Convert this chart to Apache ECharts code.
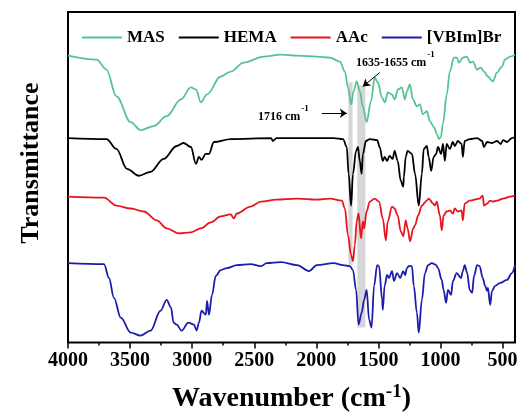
<!DOCTYPE html>
<html>
<head>
<meta charset="utf-8">
<script src="https://cdn.jsdelivr.net/npm/echarts@6/dist/echarts.min.js"></script>
<style>
  html, body { margin: 0; padding: 0; background: #fff; }
  #ftir { width: 521px; height: 418px; }
</style>
</head>
<body>
<div id="ftir"></div>
<script>
// FTIR spectra, stacked (arbitrary transmittance units, offset per sample)
var names = ['MAS', 'HEMA', 'AAc', '[VBIm]Br'];
var colors = ['#55c490', '#000000', '#e8141e', '#1c1caa'];

var majorTicks = [4000, 3500, 3000, 2500, 2000, 1500, 1000, 500];
var minorTicks = [3750, 3250, 2750, 2250, 1750, 1250, 750];

// [wavenumber, transmittance]
var MAS = [[4000,289],[3770,285],[3690,275],[3610,248],[3495,222],[3415,214],[3310,218],[3205,228],[3090,245],[3010,257],[2970,255],[2930,242],[2880,250],[2770,268],[2690,273],[2585,282],[2425,288],[2285,290],[2155,289],[1995,288],[1890,287],[1810,283],[1770,273],[1745,257],[1720,240],[1700,253],[1675,263],[1650,253],[1625,238],[1595,222],[1560,243],[1530,267],[1505,262],[1472,247],[1448,242],[1424,252],[1392,250],[1368,245],[1343,255],[1311,257],[1287,245],[1271,253],[1247,260],[1222,245],[1190,238],[1166,240],[1142,230],[1110,233],[1086,223],[1053,217],[1029,210],[1013,205],[997,207],[981,220],[949,250],[925,273],[892,287],[868,287],[852,282],[820,287],[787,288],[763,282],[739,283],[707,275],[675,277],[650,273],[618,268],[578,263],[546,272],[505,278],[481,285],[441,288],[400,290]];

var HEMA = [[4000,206],[3690,205],[3610,195],[3525,175],[3430,168],[3335,172],[3230,185],[3125,198],[3070,201],[3010,197],[2970,180],[2945,187],[2925,184],[2890,190],[2865,190],[2825,202],[2690,205],[2365,206],[2350,203],[2320,206],[1860,206],[1785,205],[1755,197],[1740,170],[1720,138],[1705,170],[1680,193],[1665,197],[1650,183],[1635,170],[1625,190],[1600,203],[1570,205],[1510,204],[1490,197],[1465,183],[1450,187],[1430,183],[1410,188],[1385,185],[1370,193],[1345,183],[1320,163],[1300,157],[1295,167],[1280,187],[1265,193],[1230,190],[1205,170],[1175,138],[1150,170],[1135,195],[1110,198],[1095,187],[1075,173],[1055,187],[1035,190],[1020,197],[995,190],[980,200],[965,183],[950,200],[925,195],[900,202],[885,198],[860,203],[830,200],[820,187],[805,203],[765,205],[705,206],[665,203],[650,197],[625,202],[585,201],[545,203],[515,200],[495,204],[465,202],[425,206],[400,207]];

var AAC = [[4000,147],[3710,146],[3610,138],[3495,135],[3390,132],[3285,123],[3205,115],[3110,110],[3010,111],[2930,115],[2850,121],[2770,127],[2690,129],[2665,125],[2640,130],[2530,137],[2445,142],[2320,144],[2155,145],[1995,144],[1890,145],[1795,143],[1770,135],[1745,108],[1720,88],[1705,82],[1690,98],[1675,122],[1660,130],[1640,105],[1625,122],[1615,115],[1595,132],[1570,142],[1530,145],[1495,142],[1465,125],[1440,103],[1425,122],[1390,137],[1370,135],[1345,128],[1320,112],[1300,107],[1280,123],[1265,115],[1245,102],[1220,115],[1205,118],[1180,128],[1150,138],[1110,143],[1095,145],[1060,140],[1045,138],[1030,142],[1005,128],[990,113],[975,128],[950,132],[925,133],[900,130],[885,135],[860,132],[830,133],[820,123],[805,140],[765,143],[685,145],[660,148],[650,138],[625,140],[600,143],[580,142],[545,143],[495,145],[440,147],[400,148]];

var VBIM = [[4000,80],[3710,79],[3670,65],[3630,45],[3575,25],[3495,10],[3415,7],[3335,12],[3255,32],[3205,43],[3170,35],[3150,20],[3125,18],[3085,12],[3030,20],[2985,18],[2965,12],[2945,20],[2925,32],[2890,28],[2880,42],[2865,28],[2840,48],[2810,67],[2770,73],[2720,75],[2640,78],[2530,79],[2445,77],[2400,80],[2285,81],[2155,78],[2060,72],[1995,78],[1860,80],[1785,78],[1730,77],[1705,73],[1680,53],[1660,18],[1635,30],[1615,43],[1595,53],[1575,23],[1555,15],[1535,57],[1510,78],[1495,77],[1470,43],[1465,33],[1450,57],[1430,68],[1415,65],[1390,72],[1375,62],[1350,70],[1325,65],[1300,72],[1285,68],[1270,75],[1255,77],[1230,77],[1215,57],[1190,30],[1175,10],[1150,43],[1125,70],[1100,78],[1070,80],[1035,78],[1020,75],[990,63],[975,53],[955,40],[940,53],[915,48],[900,62],[870,70],[835,65],[820,72],[805,78],[785,70],[765,53],[745,50],[730,67],[705,78],[685,77],[660,65],[640,57],[625,52],[618,55],[600,38],[585,52],[560,57],[520,60],[465,63],[425,70],[400,78]];

var spectra = [MAS, HEMA, AAC, VBIM];

// highlighted bands: [from, to] wavenumber, [low, high] transmittance
var bandC_O = [[1708, 1742], [78, 262]];
var bandC_C = [[1605, 1670], [15, 259]];

var serif = "'Times New Roman', 'Liberation Serif', serif";
var chart = echarts.init(document.getElementById('ftir'));

var series = spectra.map(function (d, i) {
  return {
    name: names[i],
    type: 'line',
    data: d,
    symbol: 'none',
    smooth: 0.35,
    smoothMonotone: 'x',
    z: 3,
    lineStyle: { color: colors[i], width: 1.8 },
    itemStyle: { color: colors[i] }
  };
});

series.unshift({
  name: 'bands',
  type: 'line',
  data: [],
  z: 1,
  markArea: {
    silent: true,
    itemStyle: { color: '#d6d6d6' },
    data: [
      [{ xAxis: bandC_O[0][0], yAxis: bandC_O[1][0] }, { xAxis: bandC_O[0][1], yAxis: bandC_O[1][1] }],
      [{ xAxis: bandC_C[0][0], yAxis: bandC_C[1][0] }, { xAxis: bandC_C[0][1], yAxis: bandC_C[1][1] }]
    ]
  },
  markLine: {
    silent: true,
    symbol: ['none', 'arrow'],
    symbolSize: 7,
    label: { show: false },
    lineStyle: { color: '#000', width: 1, type: 'solid' },
    data: [
      [{ coord: [1956, 231] }, { coord: [1754, 231] }],
      [{ coord: [1489, 272] }, { coord: [1625, 258] }]
    ]
  }
});

var supStyle = { fontFamily: serif, fontWeight: 'bold', fontSize: 9, fill: '#000', padding: [0, 0, 16, 1] };

var option = {
  animation: false,
  backgroundColor: '#fff',
  grid: {
    left: 68, right: 6, top: 12, bottom: 73,
    show: true, borderColor: '#000', borderWidth: 2
  },
  legend: {
    data: names,
    left: 77, top: 24,
    icon: 'rect',
    itemWidth: 40, itemHeight: 2, itemGap: 14,
    textStyle: { fontFamily: serif, fontWeight: 'bold', fontSize: 17, color: '#000' }
  },
  xAxis: [{
    type: 'value',
    min: 400, max: 4000,
    inverse: true,
    position: 'bottom',
    splitLine: { show: false },
    axisLine: { show: false },
    axisTick: { show: true, inside: false, length: 6, customValues: majorTicks,
      lineStyle: { color: '#000', width: 1.5 } },
    axisLabel: { customValues: majorTicks, margin: 8, color: '#000',
      formatter: function (v) { return String(v); },
      fontFamily: serif, fontWeight: 'bold', fontSize: 20 },
    name: 'Wavenumber (cm{sup|-1})',
    nameLocation: 'middle',
    nameGap: 40,
    nameTextStyle: {
      fontFamily: serif, fontWeight: 'bold', fontSize: 28, color: '#000',
      rich: { sup: { fontFamily: serif, fontWeight: 'bold', fontSize: 19, color: '#000', padding: [0, 0, 14, 0] } }
    }
  }, {
    type: 'value',
    min: 400, max: 4000,
    inverse: true,
    position: 'bottom',
    offset: 0,
    splitLine: { show: false },
    axisLine: { show: false },
    axisLabel: { show: false },
    axisTick: { show: true, length: 3, customValues: minorTicks,
      lineStyle: { color: '#000', width: 1.5 } }
  }],
  yAxis: {
    type: 'value',
    min: 0, max: 333,
    show: false
  },
  graphic: [{
    type: 'text',
    x: 31, y: 163,
    rotation: Math.PI / 2,
    style: {
      text: 'Transmittance',
      fontFamily: serif, fontWeight: 'bold', fontSize: 26,
      fill: '#000', align: 'center', verticalAlign: 'middle'
    }
  }, {
    type: 'text',
    x: 258, y: 117,
    style: {
      text: '1716 cm{sup|-1}',
      fontFamily: serif, fontWeight: 'bold', fontSize: 12, fill: '#000',
      verticalAlign: 'middle',
      rich: { sup: supStyle }
    }
  }, {
    type: 'text',
    x: 356, y: 63,
    style: {
      text: '1635-1655 cm{sup|-1}',
      fontFamily: serif, fontWeight: 'bold', fontSize: 12, fill: '#000',
      verticalAlign: 'middle',
      rich: { sup: supStyle }
    }
  }],
  series: series
};

chart.setOption(option);
</script>
</body>
</html>
